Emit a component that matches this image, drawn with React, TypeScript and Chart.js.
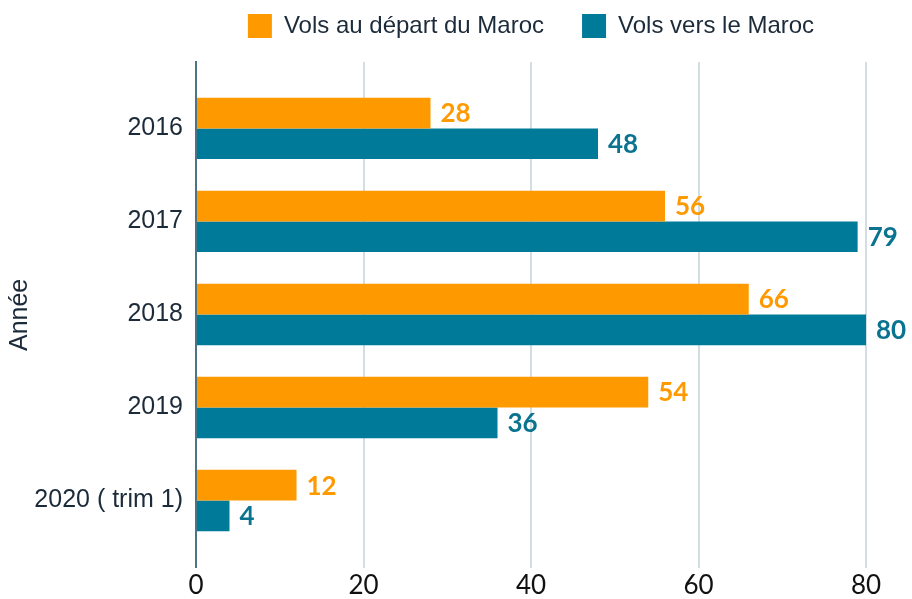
import React, { useEffect, useRef } from "react";
import { Chart, registerables } from "chart.js";

Chart.register(...registerables);

const categories = ["2016", "2017", "2018", "2019", "2020 ( trim 1)"];
const departValues = [28, 56, 66, 54, 12];
const versValues = [48, 79, 80, 36, 4];
const seriesNames = ["Vols au départ du Maroc", "Vols vers le Maroc"];
const xTicks = [0, 20, 40, 60, 80];

const ORANGE = "#FF9900";
const TEAL = "#007A99";

const valueLabelPlugin = {
  id: "valueLabels",
  afterDatasetsDraw(chart: any) {
    const ctx = chart.ctx;
    ctx.save();
    ctx.font = "bold 26px Lato";
    ctx.textAlign = "left";
    ctx.textBaseline = "middle";
    chart.data.datasets.forEach((ds: any, di: number) => {
      const meta = chart.getDatasetMeta(di);
      ctx.fillStyle = di === 0 ? "#FF9900" : "#0A7390";
      meta.data.forEach((bar: any, i: number) => {
        const v = ds.data[i].x;
        ctx.fillText(String(v), bar.x + 10, bar.y + 1);
      });
    });
    ctx.restore();
  },
};

const legendSpacer = {
  id: "legendSpacer",
  beforeInit(chart: any) {
    const legend = chart.legend;
    if (!legend) return;
    const orig = legend.fit;
    legend.fit = function () {
      orig.call(this);
      this.height += 14;
    };
  },
};

export default function App() {
  const ref = useRef<HTMLCanvasElement>(null);
  useEffect(() => {
    let chart: any = null;
    let cancelled = false;
    const make = () => {
      if (cancelled || !ref.current) return;
      chart = new Chart(ref.current, {
        type: "bar",
        data: {
          datasets: [
            {
              label: seriesNames[0],
              data: departValues.map((v, i) => ({ x: v, y: i })),
              backgroundColor: ORANGE,
              borderWidth: 0,
            },
            {
              label: seriesNames[1],
              data: versValues.map((v, i) => ({ x: v, y: i })),
              backgroundColor: TEAL,
              borderWidth: 0,
            },
          ],
        },
        options: {
          indexAxis: "y",
          animation: false,
          responsive: true,
          maintainAspectRatio: false,
          datasets: { bar: { categoryPercentage: 0.66, barPercentage: 1.0 } },
          layout: { padding: { top: 0, right: 46, left: 0, bottom: 0 } },
          plugins: {
            tooltip: { enabled: false },
            legend: {
              position: "top",
              fullSize: false,
              labels: {
                boxWidth: 24,
                boxHeight: 24,
                padding: 38,
                color: "#1C2B3A",
                font: { family: "Liberation Sans", size: 24 },
              },
            },
          },
          scales: {
            x: {
              type: "linear",
              min: 0,
              max: 80,
              afterBuildTicks: (scale: any) => {
                scale.ticks = xTicks.map((v) => ({ value: v }));
              },
              grid: { color: "#D3DEE4", lineWidth: 2, drawTicks: false },
              border: { display: false },
              ticks: {
                color: "#111111",
                padding: 2,
                font: { family: "Lato", size: 26 },
              },
            },
            y: {
              type: "linear",
              reverse: true,
              offset: false,
              min: -0.714,
              max: 4.724,
              afterBuildTicks: (scale: any) => {
                scale.ticks = categories.map((_, i) => ({ value: i }));
              },
              afterFit: (scale: any) => {
                scale.width = 188;
              },
              grid: { display: false, drawTicks: false, offset: false },
              border: { display: true, color: "#4E7385", width: 2 },
              ticks: {
                color: "#1C2B3A",
                padding: 13,
                font: { family: "Liberation Sans", size: 25 },
                callback: (v: any) => categories[Math.round(Number(v))] ?? "",
              },
              title: {
                display: true,
                text: "Année",
                color: "#1C2B3A",
                font: { family: "Liberation Sans", size: 25, lineHeight: 1 },
                padding: { top: 0, bottom: 0 },
              },
            },
          },
        },
        plugins: [legendSpacer, valueLabelPlugin],
      });
    };
    const fonts: any = (document as any).fonts;
    if (fonts && fonts.load) {
      Promise.all([
        fonts.load('24px "Liberation Sans"'),
        fonts.load('25px "Liberation Sans"'),
        fonts.load("26px Lato"),
        fonts.load("bold 26px Lato"),
      ])
        .catch(() => null)
        .then(make);
    } else {
      make();
    }
    return () => {
      cancelled = true;
      if (chart) chart.destroy();
    };
  }, []);
  return (
    <div style={{ position: "fixed", left: 8, top: -24, width: 904, height: 627 }}>
      <canvas ref={ref} />
    </div>
  );
}
